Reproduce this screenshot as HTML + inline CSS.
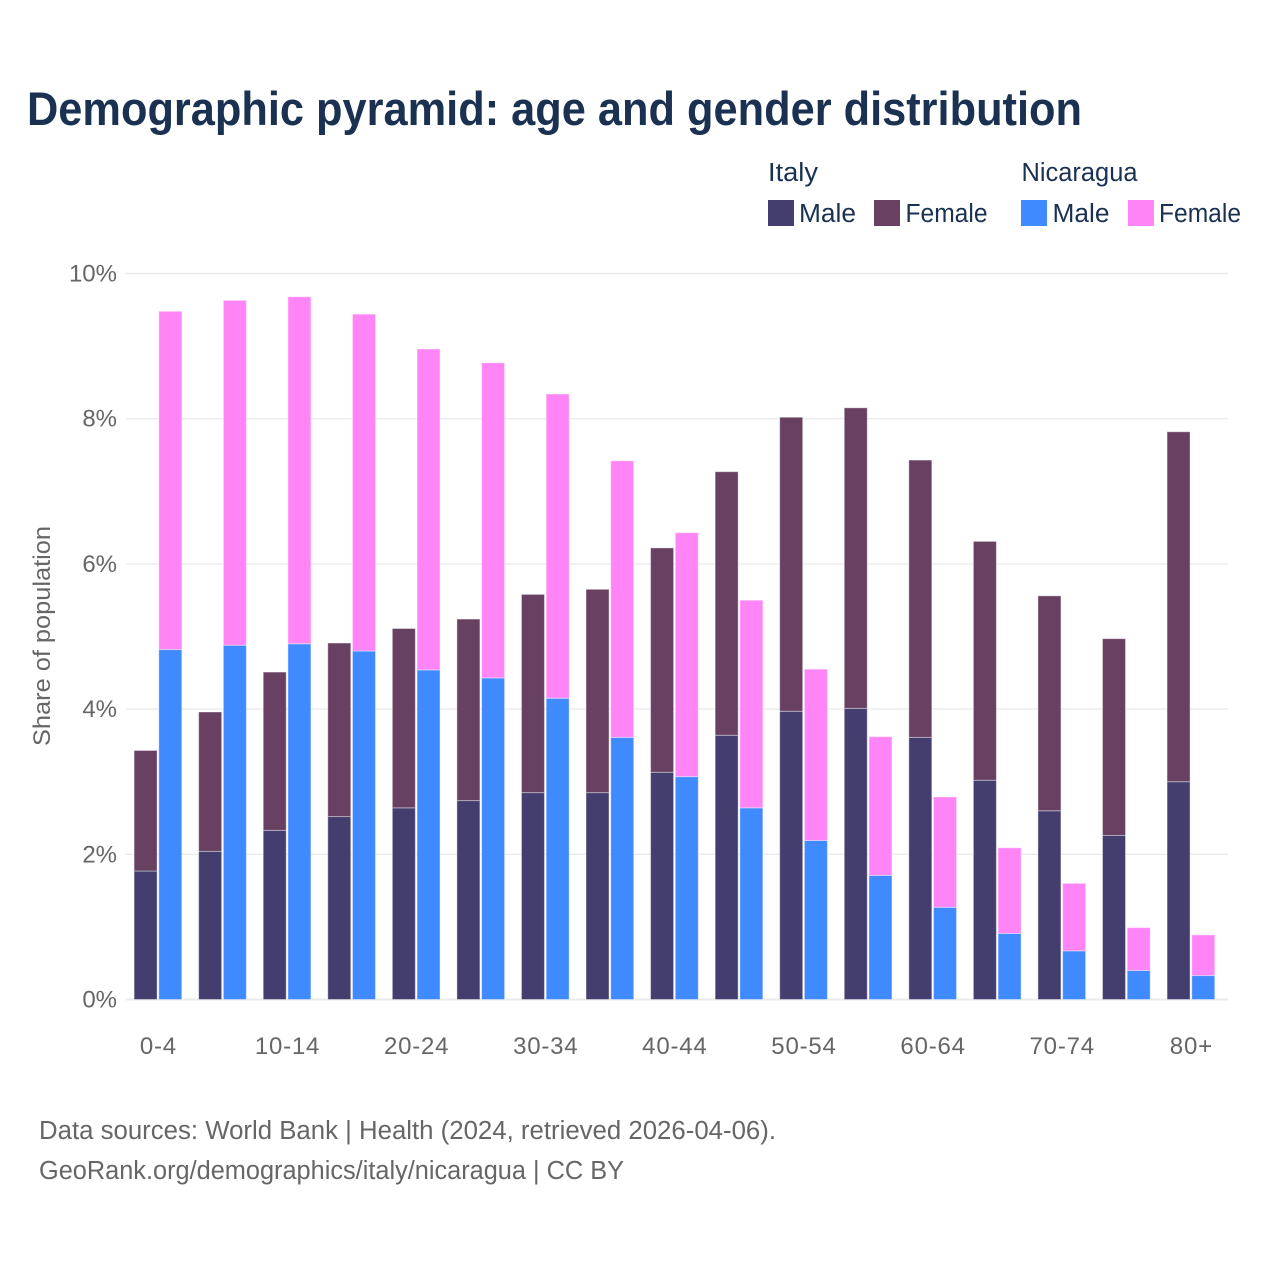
<!DOCTYPE html>
<html lang="en">
<head>
<meta charset="utf-8">
<title>Demographic pyramid: age and gender distribution</title>
<style>
  html, body { margin: 0; padding: 0; background: #fff; }
  svg { display: block; font-family: "Liberation Sans", sans-serif; }
</style>
</head>
<body>
<svg id="chart" xmlns="http://www.w3.org/2000/svg" width="1280" height="1280" viewBox="0 0 1280 1280">
  <rect x="0" y="0" width="1280" height="1280" fill="#ffffff"/>
  <text x="27" y="125" font-size="47" font-weight="700" fill="#1a3152" textLength="1055" lengthAdjust="spacingAndGlyphs">Demographic pyramid: age and gender distribution</text>

  <g font-size="25.5" fill="#1a3152">
    <text x="768" y="181" textLength="50" lengthAdjust="spacingAndGlyphs">Italy</text>
    <text x="1021.5" y="181" textLength="116" lengthAdjust="spacingAndGlyphs">Nicaragua</text>
    <rect x="768" y="200" width="26" height="26" fill="#433e6e"/>
    <text x="799" y="222" textLength="57" lengthAdjust="spacingAndGlyphs">Male</text>
    <rect x="874" y="200" width="26" height="26" fill="#674062"/>
    <text x="905.5" y="222" textLength="82" lengthAdjust="spacingAndGlyphs">Female</text>
    <rect x="1021" y="200" width="26" height="26" fill="#408aff"/>
    <text x="1052.5" y="222" textLength="57" lengthAdjust="spacingAndGlyphs">Male</text>
    <rect x="1128" y="200" width="26" height="26" fill="#ff85f7"/>
    <text x="1159" y="222" textLength="82" lengthAdjust="spacingAndGlyphs">Female</text>
  </g>

  <g id="grid"></g>
  <g id="bars"></g>
  <g id="y-axis"></g>
  <g id="x-axis"></g>

  <text transform="translate(50,746) rotate(-90)" x="0" y="0" font-size="24" fill="#666666" textLength="220" lengthAdjust="spacingAndGlyphs">Share of population</text>

  <text x="39" y="1139" font-size="25.5" fill="#666666" textLength="737" lengthAdjust="spacingAndGlyphs">Data sources: World Bank | Health (2024, retrieved 2026-04-06).</text>
  <text x="39" y="1179" font-size="25.5" fill="#666666" textLength="585" lengthAdjust="spacingAndGlyphs">GeoRank.org/demographics/italy/nicaragua | CC BY</text>
</svg>

<script>
const categories = ["0-4","5-9","10-14","15-19","20-24","25-29","30-34","35-39","40-44","45-49","50-54","55-59","60-64","65-69","70-74","75-79","80+"];
const italyMale = [1.77,2.04,2.33,2.52,2.64,2.74,2.85,2.85,3.13,3.64,3.97,4.01,3.61,3.02,2.60,2.26,3.00];
const italyFemale = [1.66,1.92,2.18,2.39,2.47,2.50,2.73,2.80,3.09,3.63,4.05,4.14,3.82,3.29,2.96,2.71,4.82];
const nicaraguaMale = [4.82,4.88,4.90,4.80,4.54,4.43,4.15,3.61,3.07,2.64,2.19,1.71,1.27,0.91,0.67,0.40,0.33];
const nicaraguaFemale = [4.66,4.75,4.78,4.64,4.42,4.34,4.19,3.81,3.36,2.86,2.36,1.91,1.52,1.18,0.93,0.59,0.56];
const yTicks = [0,2,4,6,8,10];
const xTickLabels = ["0-4","10-14","20-24","30-34","40-44","50-54","60-64","70-74","80+"];

const NS = "http://www.w3.org/2000/svg";
const plotLeft = 125.8, plotRight = 1228;
const bandStep = 64.56;
const barOffsetA = 8.3, barOffsetB = 33, barWidth = 23;
const y0 = 999.5, pxPerPct = 72.6;

function yScale(v) { return y0 - v * pxPerPct; }
function xBand(i) { return plotLeft + i * bandStep; }
function xCenter(label) { return xBand(categories.indexOf(label)) + 32.6; }

const gridG = document.getElementById("grid");
const barsG = document.getElementById("bars");
const yG = document.getElementById("y-axis");
const xG = document.getElementById("x-axis");

yTicks.forEach(function (t) {
  const line = document.createElementNS(NS, "line");
  
  
  line.setAttribute("x1", plotLeft);
  line.setAttribute("x2", plotRight);
  line.setAttribute("y1", yScale(t));
  line.setAttribute("y2", yScale(t));
  line.setAttribute("stroke", "#ebebeb");
  line.setAttribute("stroke-width", t === 0 ? 2 : 1.4);
  gridG.appendChild(line);

  const label = document.createElementNS(NS, "text");
  
  
  label.setAttribute("x", 117);
  label.setAttribute("y", yScale(t) + 8);
  label.setAttribute("text-anchor", "end");
  label.setAttribute("font-size", "24");
  label.setAttribute("fill", "#666666");
  label.textContent = t + "%";
  yG.appendChild(label);
});

xTickLabels.forEach(function (c) {
  const label = document.createElementNS(NS, "text");
  
  
  label.setAttribute("x", xCenter(c));
  label.setAttribute("y", 1054);
  label.setAttribute("text-anchor", "middle");
  label.setAttribute("font-size", "24");
  label.setAttribute("letter-spacing", "0.8");
  label.setAttribute("fill", "#666666");
  label.textContent = c;
  xG.appendChild(label);
});

function drawBar(x, base, value, color) {
  const r = document.createElementNS(NS, "rect");
  
  
  r.setAttribute("x", x);
  r.setAttribute("y", yScale(base + value));
  r.setAttribute("width", barWidth);
  r.setAttribute("height", yScale(base) - yScale(base + value));
  r.setAttribute("fill", color);
  r.setAttribute("stroke", "#ffffff");
  r.setAttribute("stroke-opacity", "0.4");
  r.setAttribute("stroke-width", "1");
  barsG.appendChild(r);
}

categories.forEach(function (c, i) {
  const a = xBand(i) + barOffsetA;
  const b = xBand(i) + barOffsetB;
  drawBar(a, 0, italyMale[i], "#433e6e");
  drawBar(a, italyMale[i], italyFemale[i], "#674062");
  drawBar(b, 0, nicaraguaMale[i], "#408aff");
  drawBar(b, nicaraguaMale[i], nicaraguaFemale[i], "#ff85f7");
});
</script>
</body>
</html>
